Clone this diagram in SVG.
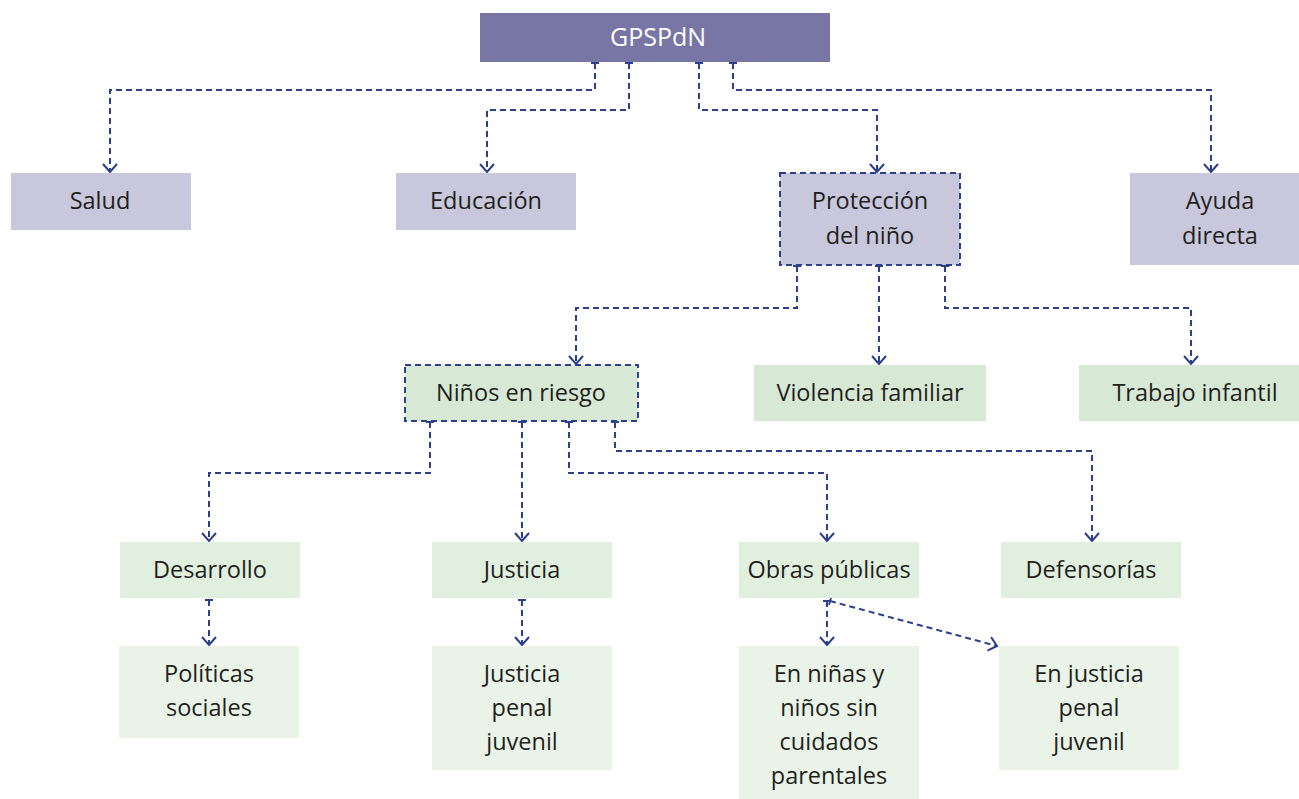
<svg xmlns="http://www.w3.org/2000/svg" width="1299" height="799" viewBox="0 0 1299 799">
<style>
.t{font-family:"Open Sans","Noto Sans",sans-serif;font-size:23.5px;fill:#231f20;text-anchor:middle}
.w{fill:#ffffff;font-size:25px}
.l1{fill:#c8c7dc}
.l2{fill:#d7e9d5}
.l3{fill:#e1efdf}
.l4{fill:#e9f3e7}
.db{stroke:#2b3f8a;stroke-width:2;stroke-dasharray:6,4}
.c{fill:none;stroke:#2b3f8a;stroke-width:2;stroke-dasharray:6,4;marker-end:url(#arr);marker-start:url(#tee)}
</style>
<defs>
<marker id="arr" markerWidth="16" markerHeight="16" refX="10" refY="8" orient="auto" markerUnits="userSpaceOnUse">
<path d="M2,1 L10,8 L2,15" fill="none" stroke="#2b3f8a" stroke-width="2"/>
</marker>
<marker id="tee" markerWidth="12" markerHeight="12" refX="1" refY="6" orient="auto" markerUnits="userSpaceOnUse">
<path d="M1,2 L1,10" fill="none" stroke="#2b3f8a" stroke-width="2"/>
</marker>
</defs>
<g id="connectors">
<path class="c" d="M595,63 V90 H110 V172"/>
<path class="c" d="M629,63 V110 H487 V172"/>
<path class="c" d="M699,63 V110 H877 V172"/>
<path class="c" d="M733,63 V90 H1211 V172"/>
<path class="c" d="M797,266 V308 H576 V364"/>
<path class="c" d="M879,266 V364"/>
<path class="c" d="M945,266 V308 H1191 V364"/>
<path class="c" d="M430,422 V473 H209 V541"/>
<path class="c" d="M522,422 V541"/>
<path class="c" d="M569,422 V473 H827 V541"/>
<path class="c" d="M615,422 V451 H1092 V541"/>
<path class="c" d="M209,600 V645"/>
<path class="c" d="M522,600 V645"/>
<path class="c" d="M827,601 V645"/>
<path class="c" d="M830,601 L997,646"/>
</g>
<g id="n-gpspdn"><rect x="480" y="13" width="350" height="49" fill="#7776a5"/><text class="t w" x="658" y="46">GPSPdN</text></g>
<g id="n-salud"><rect class="l1" x="11" y="173" width="180" height="57"/><text class="t" x="100" y="209">Salud</text></g>
<g id="n-educacion"><rect class="l1" x="396" y="173" width="180" height="57"/><text class="t" x="486" y="209">Educación</text></g>
<g id="n-proteccion"><rect class="l1 db" x="780" y="173" width="180" height="92"/><text class="t" x="870" y="209">Protección</text><text class="t" x="870" y="244">del niño</text></g>
<g id="n-ayuda"><rect class="l1" x="1130" y="173" width="170" height="92"/><text class="t" x="1220" y="209">Ayuda</text><text class="t" x="1220" y="244">directa</text></g>
<g id="n-ninos"><rect class="l2 db" x="405" y="365" width="233" height="56"/><text class="t" x="521" y="401">Niños en riesgo</text></g>
<g id="n-violencia"><rect class="l2" x="754" y="365" width="232" height="56"/><text class="t" x="870" y="401">Violencia familiar</text></g>
<g id="n-trabajo"><rect class="l2" x="1079" y="365" width="221" height="56"/><text class="t" x="1195" y="401">Trabajo infantil</text></g>
<g id="n-desarrollo"><rect class="l3" x="120" y="542" width="180" height="56"/><text class="t" x="210" y="578">Desarrollo</text></g>
<g id="n-justicia"><rect class="l3" x="432" y="542" width="180" height="56"/><text class="t" x="522" y="578">Justicia</text></g>
<g id="n-obras"><rect class="l3" x="739" y="542" width="180" height="56"/><text class="t" x="829" y="578">Obras públicas</text></g>
<g id="n-defensorias"><rect class="l3" x="1001" y="542" width="180" height="56"/><text class="t" x="1091" y="578">Defensorías</text></g>
<g id="n-politicas"><rect class="l4" x="119" y="646" width="180" height="92"/><text class="t" x="209" y="682">Políticas</text><text class="t" x="209" y="716">sociales</text></g>
<g id="n-jpenal"><rect class="l4" x="432" y="646" width="180" height="124"/><text class="t" x="522" y="682">Justicia</text><text class="t" x="522" y="716">penal</text><text class="t" x="522" y="750">juvenil</text></g>
<g id="n-ninas"><rect class="l4" x="739" y="646" width="180" height="153"/><text class="t" x="829" y="682">En niñas y</text><text class="t" x="829" y="716">niños sin</text><text class="t" x="829" y="750">cuidados</text><text class="t" x="829" y="784">parentales</text></g>
<g id="n-ejpenal"><rect class="l4" x="999" y="646" width="180" height="124"/><text class="t" x="1089" y="682">En justicia</text><text class="t" x="1089" y="716">penal</text><text class="t" x="1089" y="750">juvenil</text></g>
</svg>
